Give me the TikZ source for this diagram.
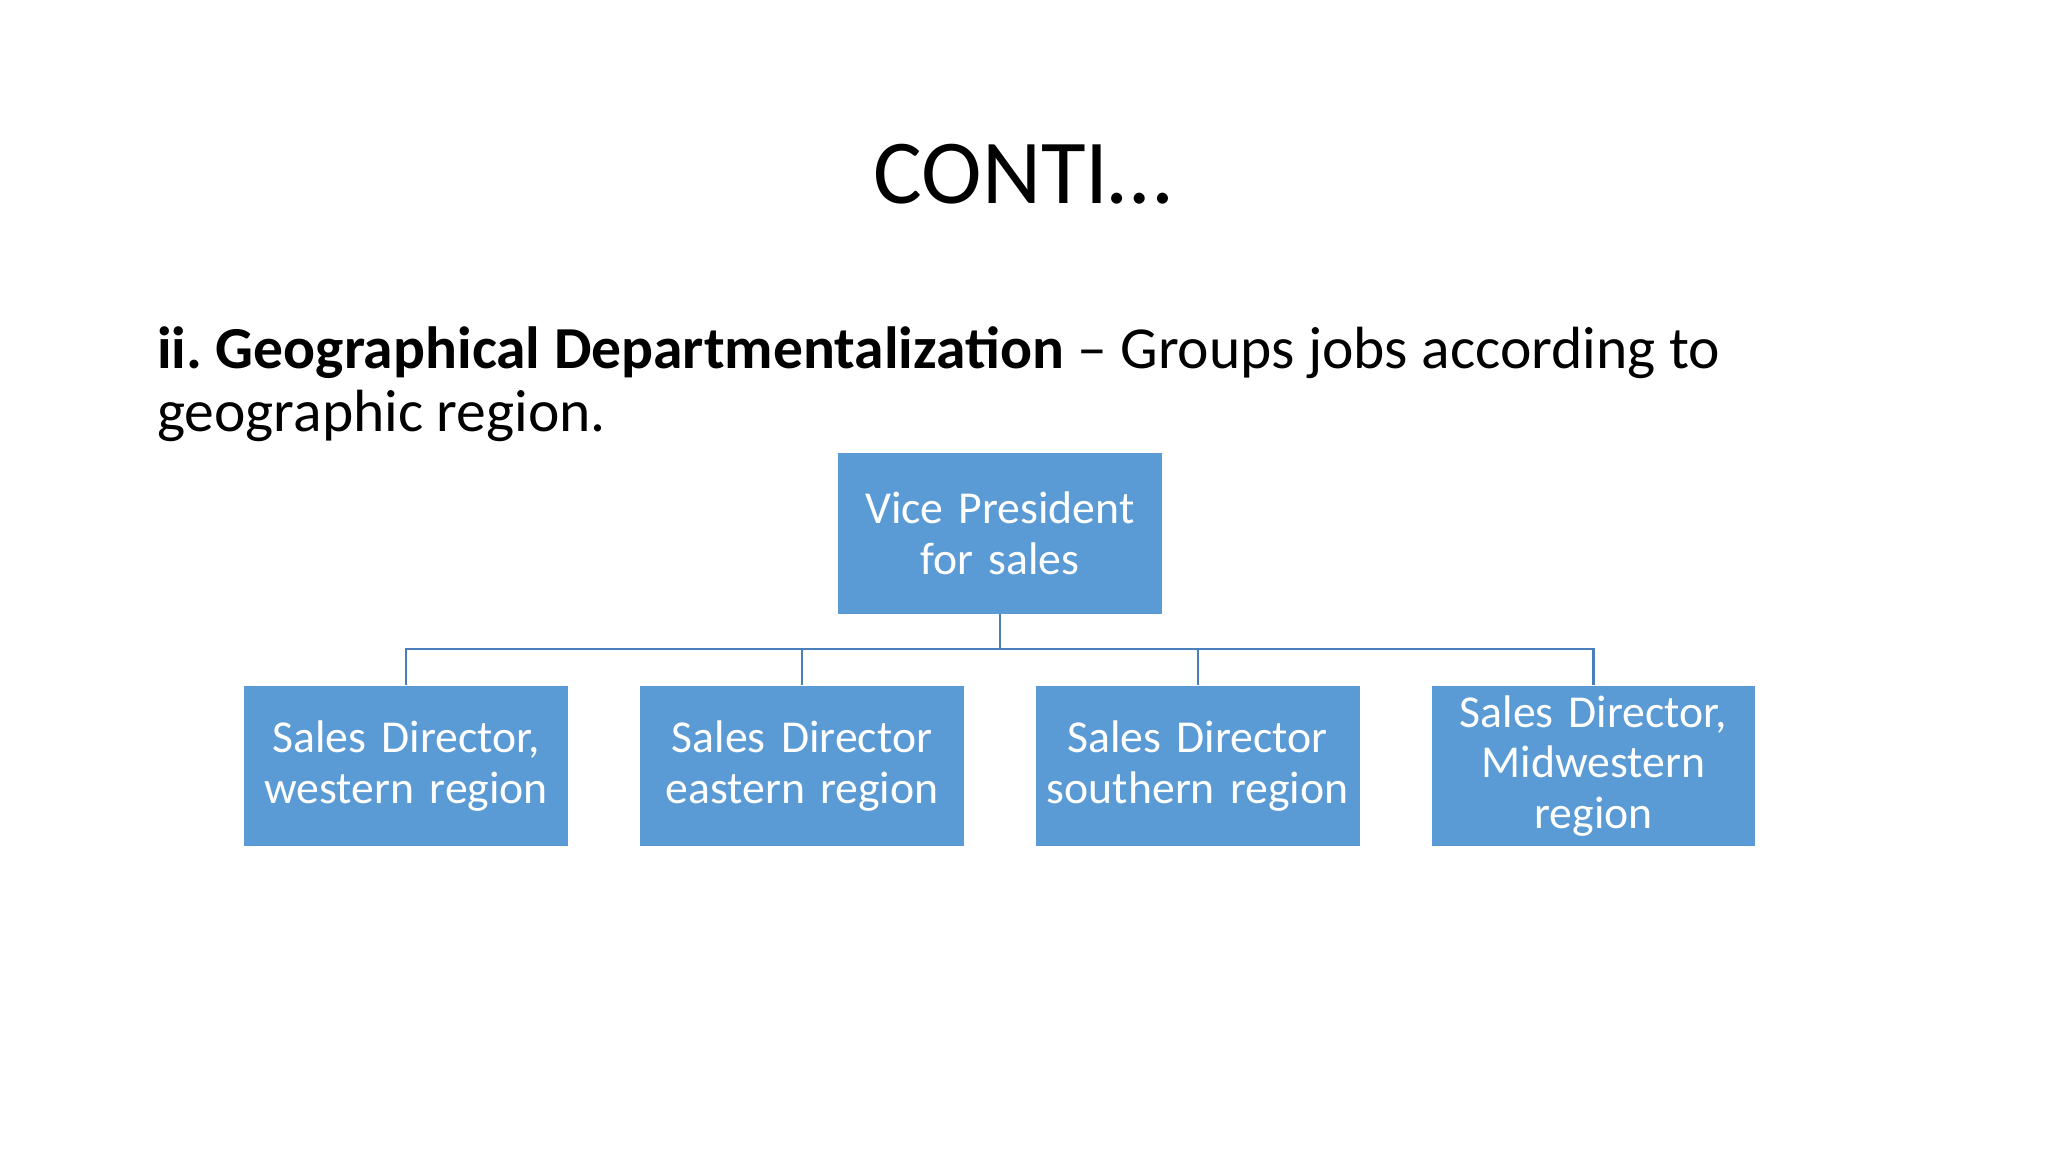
\documentclass[tikz,border=0pt]{standalone}
\usepackage{fontspec}
\setmainfont{Carlito}
\frenchspacing
\definecolor{boxblue}{HTML}{5B9BD5}
\definecolor{lineblue}{HTML}{4A7EBB}
\begin{document}
\begin{tikzpicture}[x=0.5pt,y=-0.5pt,
  orgbox/.style={fill=boxblue,draw=none,text=white,minimum width=124pt,minimum height=61.5pt,inner sep=0pt,align=center,font=\fontsize{17.5}{19.5}\selectfont,text width=123pt},
  conn/.style={draw=lineblue,line width=0.8pt}]
\useasboundingbox (0,0) rectangle (1568,882);
\node (title) at (783,133) {\fontsize{35}{40}\selectfont CONTI\ldots};
\node[anchor=base west,inner sep=0pt] (l1) at (120,282) {\fontsize{22.8}{25}\selectfont\textbf{ii. Geographical Departmentalization} -- Groups jobs according to};
\node[anchor=base west,inner sep=0pt] (l2) at (120,330) {\fontsize{22.8}{25}\selectfont geographic region.};
\node[orgbox] (vp) at (765.5,408.5) {Vice President\\for sales};
\node[orgbox] (c1) at (311,586.5) {Sales Director,\\western region};
\node[orgbox] (c2) at (614,586.5) {Sales Director\\eastern region};
\node[orgbox] (c3) at (917,586.5) {Sales Director\\southern region};
\node[orgbox] (c4) at (1220,586.5) {Sales Director,\\Midwestern\\region};
\coordinate (hub) at (765.5,497);
\draw[conn] (vp.south) -- (hub);
\foreach \c in {c1,c2,c3,c4}{\draw[conn] (hub) -| (\c.north);}
\end{tikzpicture}
\end{document}
